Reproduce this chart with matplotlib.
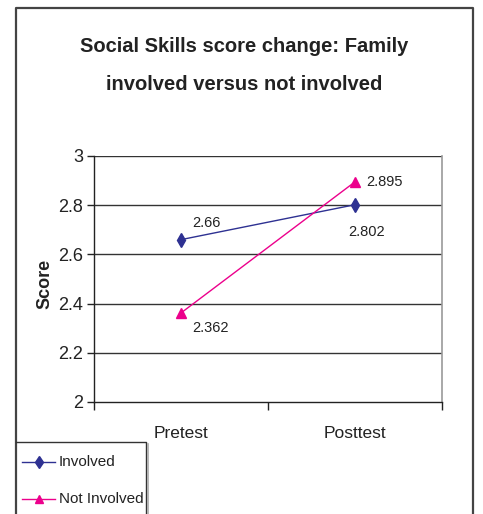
import matplotlib
matplotlib.use("Agg")
import matplotlib.pyplot as plt
from matplotlib.lines import Line2D

# data
phases = ["Pretest", "Posttest"]
involved = [2.66, 2.802]
not_involved = [2.362, 2.895]
involved_labels = ["2.66", "2.802"]
not_involved_labels = ["2.362", "2.895"]
yticks = [2, 2.2, 2.4, 2.6, 2.8, 3]

plt.rcParams["font.family"] = ["Liberation Sans", "DejaVu Sans"]

BLUE = "#2E3192"
PINK = "#EC008C"
INK = "#222222"

W, H = 483, 514
fig = plt.figure(figsize=(W / 100, H / 100), dpi=100)
fig.patch.set_facecolor("white")

def fx(px):
    return px / W

def fy(py):
    return 1 - py / H

# outer chart frame (cropped at the bottom)
fig.add_artist(Line2D([fx(16), fx(16), fx(473), fx(473)], [0, fy(8), fy(8), 0],
                      transform=fig.transFigure, color="#444444", lw=1.6))

ax = fig.add_axes([fx(94), fy(402), fx(442) - fx(94), fy(156) - fy(402)])
x = [0, 1]
ax.plot(x, involved, color=BLUE, lw=1, marker="d", ms=7.5, mfc=BLUE, mec=BLUE)
ax.plot(x, not_involved, color=PINK, lw=1, marker="^", ms=7, mfc=PINK, mec=PINK)
ax.set_xlim(-0.5, 1.5)
ax.set_ylim(2, 3)
ax.set_yticks(yticks)
ax.set_yticklabels(["2", "2.2", "2.4", "2.6", "2.8", "3"], fontsize=13, color=INK)
ax.set_xticks([-0.5, 0.5, 1.5])
ax.set_xticklabels([])
ax.tick_params(axis="x", length=6, width=1, direction="out", color=INK)
ax.tick_params(axis="y", length=5, width=1, direction="out", color=INK, pad=3)
for v in yticks[1:]:
    ax.axhline(v, color="#333333", lw=1, zorder=0)
for s in ("left", "bottom"):
    ax.spines[s].set_color(INK)
    ax.spines[s].set_linewidth(1)
ax.spines["right"].set_color("#999999")
ax.spines["top"].set_visible(False)
ax.spines["right"].set_linewidth(1.2)

for i, name in enumerate(phases):
    ax.text(i, 1.87, name, ha="center", va="center", fontsize=12.5, color=INK)

ax.annotate(involved_labels[0], (0, involved[0]), xytext=(8, 12), textcoords="offset points",
            fontsize=10.5, color=INK, va="center")
ax.annotate(involved_labels[1], (1, involved[1]), xytext=(-5, -20), textcoords="offset points",
            fontsize=10.5, color=INK, va="center")
ax.annotate(not_involved_labels[0], (0, not_involved[0]), xytext=(8, -11), textcoords="offset points",
            fontsize=10.5, color=INK, va="center")
ax.annotate(not_involved_labels[1], (1, not_involved[1]), xytext=(8, 0), textcoords="offset points",
            fontsize=10.5, color=INK, va="center")

fig.text(fx(45), fy(284), "Score", rotation=90, ha="center", va="center",
         fontsize=13, fontweight="bold", color=INK)

fig.text(fx(244), fy(47), "Social Skills score change: Family", ha="center", va="center",
         fontsize=14.5, fontweight="bold", color=INK)
fig.text(fx(244), fy(85), "involved versus not involved", ha="center", va="center",
         fontsize=14.5, fontweight="bold", color=INK)

# legend box (also cropped at bottom)
fig.add_artist(Line2D([fx(16), fx(146), fx(146)], [fy(442), fy(442), 0],
                      transform=fig.transFigure, color="#333333", lw=1))
fig.add_artist(Line2D([fx(146) + 0.004, fx(146) + 0.004], [fy(444), 0],
                      transform=fig.transFigure, color="#aaaaaa", lw=1.2))
for py, col, mk, ms, lab in [(462, BLUE, "d", 6.5, "Involved"), (499, PINK, "^", 6, "Not Involved")]:
    fig.add_artist(Line2D([fx(22), fx(55)], [fy(py), fy(py)], transform=fig.transFigure,
                          color=col, lw=1))
    fig.add_artist(Line2D([fx(38.5)], [fy(py)], transform=fig.transFigure, color=col,
                          marker=mk, ms=ms, mfc=col, mec=col))
    fig.text(fx(59), fy(py), lab, ha="left", va="center", fontsize=11, color=INK)

fig.savefig("out.png", dpi=100)
